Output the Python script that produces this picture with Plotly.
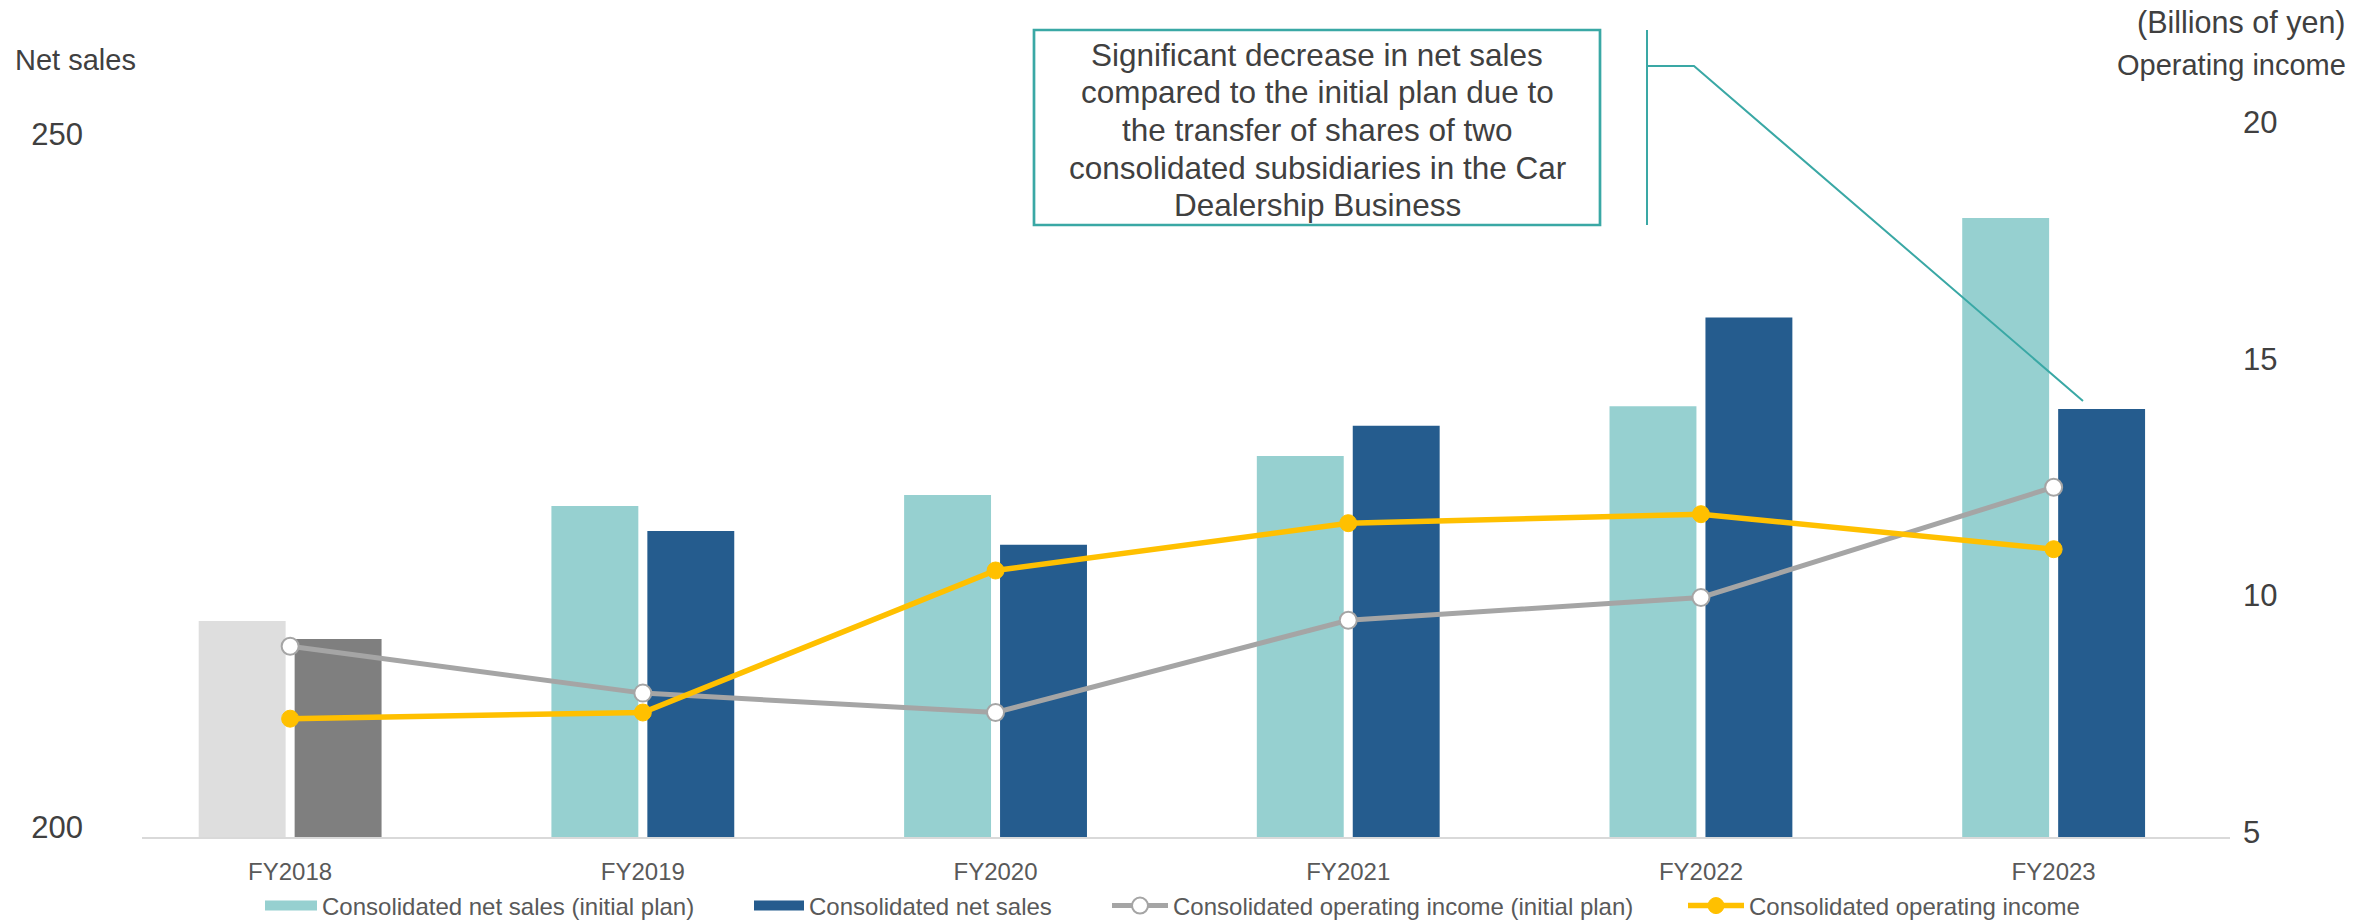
import plotly.graph_objects as go

# ---------------- data ----------------
categories = ["FY2018", "FY2019", "FY2020", "FY2021", "FY2022", "FY2023"]
net_sales_plan = [215.6, 223.9, 224.7, 227.5, 231.1, 244.7]
net_sales = [214.3, 222.1, 221.1, 229.7, 237.5, 230.9]
op_income_plan = [9.03, 8.04, 7.63, 9.58, 10.06, 12.39]
op_income = [7.5, 7.63, 10.63, 11.63, 11.82, 11.08]
left_ticks = [200, 250]
right_ticks = [5, 10, 15, 20]
callout_lines = [
    "Significant decrease in net sales",
    "compared to the initial plan due to",
    "the transfer of shares of two",
    "consolidated subsidiaries in the Car",
    "Dealership Business",
]

# ---------------- style ----------------
FONT = "Liberation Sans, Arial, sans-serif"
TXT = "#404040"
TXT2 = "#595959"
TEAL = "#96D0D0"
BLUE = "#255C8E"
LGRAY = "#DEDEDE"
DGRAY = "#7F7F7F"
LINEGRAY = "#A5A5A5"
YELLOW = "#FFC000"
CALLOUT = "#3AA8A5"

W, H = 2379, 920
PL, PR, PT, PB = 142, 2230, 127, 837


def px(x):
    return (x - PL) / (PR - PL)


def py(y):
    return (PB - y) / (PB - PT)


plan_colors = [LGRAY] + [TEAL] * (len(categories) - 1)
actual_colors = [DGRAY] + [BLUE] * (len(categories) - 1)

fig = go.Figure()

fig.add_trace(go.Bar(
    x=categories, y=net_sales_plan, name="Consolidated net sales (initial plan)",
    marker=dict(color=plan_colors, line=dict(width=0)), showlegend=False,
    legendgroup="plan", yaxis="y"))
fig.add_trace(go.Bar(
    x=categories, y=net_sales, name="Consolidated net sales",
    marker=dict(color=actual_colors, line=dict(width=0)), showlegend=False,
    legendgroup="act", yaxis="y"))

# legend proxies for the bars (wide swatches)
fig.add_trace(go.Scatter(
    x=[None], y=[None], mode="lines", name="Consolidated net sales (initial plan)",
    line=dict(color=TEAL, width=12), legendgroup="plan", legend="legend", yaxis="y"))
fig.add_trace(go.Scatter(
    x=[None], y=[None], mode="lines", name="Consolidated net sales",
    line=dict(color=BLUE, width=12), legendgroup="act", legend="legend2", yaxis="y"))

fig.add_trace(go.Scatter(
    x=categories, y=op_income_plan, mode="lines+markers",
    name="Consolidated operating income (initial plan)",
    line=dict(color=LINEGRAY, width=5),
    marker=dict(size=17, color="white", line=dict(color=LINEGRAY, width=2)),
    yaxis="y2", legend="legend3"))
fig.add_trace(go.Scatter(
    x=categories, y=op_income, mode="lines+markers",
    name="Consolidated operating income",
    line=dict(color=YELLOW, width=5.5),
    marker=dict(size=17, color=YELLOW, line=dict(color=YELLOW, width=1)),
    yaxis="y2", legend="legend4"))

left_top = 200 + (PB - PT) / 13.85
leg_font = dict(family=FONT, size=24, color=TXT2)


def leg(xpx, iw):
    return dict(x=px(xpx), y=py(906), xref="paper", yref="paper",
                xanchor="left", yanchor="middle",
                orientation="h", itemwidth=iw, font=leg_font,
                bgcolor="rgba(0,0,0,0)", borderwidth=0, tracegroupgap=0)


annotations = [
    dict(text="Net sales", x=px(13), y=py(60), xref="paper", yref="paper",
         xanchor="left", yanchor="middle", showarrow=False,
         font=dict(family=FONT, size=29, color=TXT)),
    dict(text="(Billions of yen)", x=px(2348), y=py(23), xref="paper", yref="paper",
         xanchor="right", yanchor="middle", showarrow=False,
         font=dict(family=FONT, size=30.5, color=TXT)),
    dict(text="Operating income", x=px(2348), y=py(65), xref="paper", yref="paper",
         xanchor="right", yanchor="middle", showarrow=False,
         font=dict(family=FONT, size=29, color=TXT)),
]
line_y0, line_dy = 55, 37.5
for i, t in enumerate(callout_lines):
    annotations.append(dict(
        text=t, x=px(1317), y=py(line_y0 + i * line_dy), xref="paper", yref="paper",
        xanchor="center", yanchor="middle", showarrow=False,
        font=dict(family=FONT, size=31.5, color=TXT)))

shapes = [
    dict(type="rect", xref="paper", yref="paper",
         x0=px(1034), x1=px(1600), y0=py(225), y1=py(30),
         line=dict(color=CALLOUT, width=2.7), fillcolor="white", layer="above"),
    dict(type="path", xref="paper", yref="paper",
         path=(f"M {px(1647)},{py(30)} L {px(1647)},{py(225)} "
               f"M {px(1647)},{py(66)} L {px(1694)},{py(66)} L {px(2083)},{py(401)}"),
         line=dict(color=CALLOUT, width=2), layer="above"),
]

fig.update_layout(
    width=W, height=H, autosize=False,
    margin=dict(l=PL, r=W - PR, t=PT, b=H - PB, pad=0, autoexpand=False),
    paper_bgcolor="white", plot_bgcolor="white",
    font=dict(family=FONT, color=TXT),
    barmode="group", bargap=0.456, bargroupgap=0.094,
    xaxis=dict(type="category", range=[-0.42, 5.5], showgrid=False, zeroline=False,
               showline=True, linecolor="#D9D9D9", linewidth=2, ticks="",
               tickfont=dict(family=FONT, size=24, color=TXT2),
               ticklabelstandoff=12, fixedrange=True),
    yaxis=dict(range=[200, left_top], tickvals=left_ticks, showgrid=False,
               zeroline=False, showline=False, ticks="",
               tickfont=dict(family=FONT, size=31, color=TXT),
               ticklabelstandoff=58, ticklabelshift=-10),
    yaxis2=dict(range=[5, 20], tickvals=right_ticks, overlaying="y", side="right",
                showgrid=False, zeroline=False, showline=False, ticks="",
                tickfont=dict(family=FONT, size=31, color=TXT),
                ticklabelstandoff=12, ticklabelshift=-5),
    legend=leg(260, 52),
    legend2=leg(749, 50),
    legend3=leg(1107, 56),
    legend4=leg(1683, 56),
    annotations=annotations,
    shapes=shapes,
    showlegend=True,
)

fig.write_html("out.html")
